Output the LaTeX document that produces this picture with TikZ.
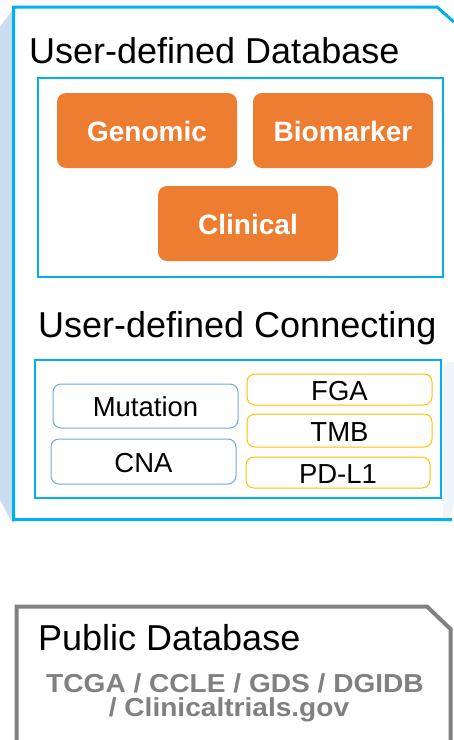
\documentclass[tikz,border=0pt]{standalone}
\usepackage{fontspec}
\usepackage{graphicx}
\setmainfont{Liberation Sans}
\definecolor{frameblue}{HTML}{00B0F0}
\definecolor{shadowblue}{HTML}{C9DCF0}
\definecolor{paleblue}{HTML}{EEF6FC}
\definecolor{orangefill}{HTML}{ED7D31}
\definecolor{genblue}{HTML}{6FA8DC}
\definecolor{goldline}{HTML}{FFC000}
\definecolor{framegray}{HTML}{808080}
\begin{document}
\begin{tikzpicture}[x=1pt,y=-1pt,
  title/.style={anchor=base west, inner sep=0pt, font=\fontsize{36}{40}\selectfont},
  orangebox/.style={rounded corners=9pt, fill=orangefill, text=white, inner sep=0pt,
    font=\fontsize{28}{30}\selectfont\bfseries, minimum width=180pt, minimum height=75pt,
    text height=22.4pt, text depth=0pt},
  genbox/.style={draw=genblue, line width=1pt, rounded corners=8pt, inner sep=0pt,
    font=\fontsize{27.5}{30}\selectfont, minimum width=185pt, text height=21pt, text depth=0pt},
  markbox/.style={genbox, draw=goldline},
  graytext/.style={anchor=base, inner sep=0pt, text=framegray, font=\fontsize{26}{28}\selectfont\bfseries}
]
\useasboundingbox (0,0) rectangle (454,740);
\fill[white] (0,0) rectangle (454,740);

% left shadow of the user box
\fill[shadowblue] (14,8) -- (0,27) -- (0,500) -- (12,522) -- (14,522) -- cycle;
% faint right side
\fill[paleblue] (443,362) -- (454,362) -- (454,505) -- (449,517) -- (443,517) -- cycle;

% outer user frame
\draw[frameblue, line width=3pt, line join=miter]
  (454,22) -- (437,7) -- (13.5,7) -- (13.5,519.5) -- (452,519.5);

% titles
\node[title] (t1) at (29,63) {User-defined Database};
\node[title] (t2) at (38,337) {User-defined Connecting};

% database box
\draw[frameblue, line width=1.3pt] (38,78) rectangle (443,277);
\node[orangebox] (genomic) at (147,130.5) {Genomic};
\node[orangebox] (biomarker) at (343,130.5) {Biomarker};
\node[orangebox] (clinical) at (248,223.5) {Clinical};

% connecting box
\draw[frameblue, line width=1.3pt] (35,360) rectangle (441,498);
\node[genbox, minimum height=44pt] (mutation) at (145.5,406) {Mutation};
\node[genbox, minimum height=45pt] (cna) at (143.5,461.5) {CNA};
\node[markbox, minimum height=31pt] (fga) at (339.5,389.5) {FGA};
\node[markbox, minimum height=33pt] (tmb) at (339.5,430.5) {TMB};
\node[markbox, minimum height=31pt, minimum width=184pt] (pdl1) at (338,472.5) {PD-L1};

% public database frame
\draw[framegray, line width=4pt, line join=miter]
  (16.5,742) -- (16.5,606.5) -- (427,606.5) -- (450.5,629) -- (450.5,742);
\node[title] (t3) at (38,650) {Public Database};
\node[graytext] (pub1) at (235,692) {\scalebox{1.08}[1]{TCGA / CCLE / GDS / DGIDB}};
\node[graytext] (pub2) at (229,716) {\scalebox{1.08}[1]{/ Clinicaltrials.gov}};
\end{tikzpicture}
\end{document}
